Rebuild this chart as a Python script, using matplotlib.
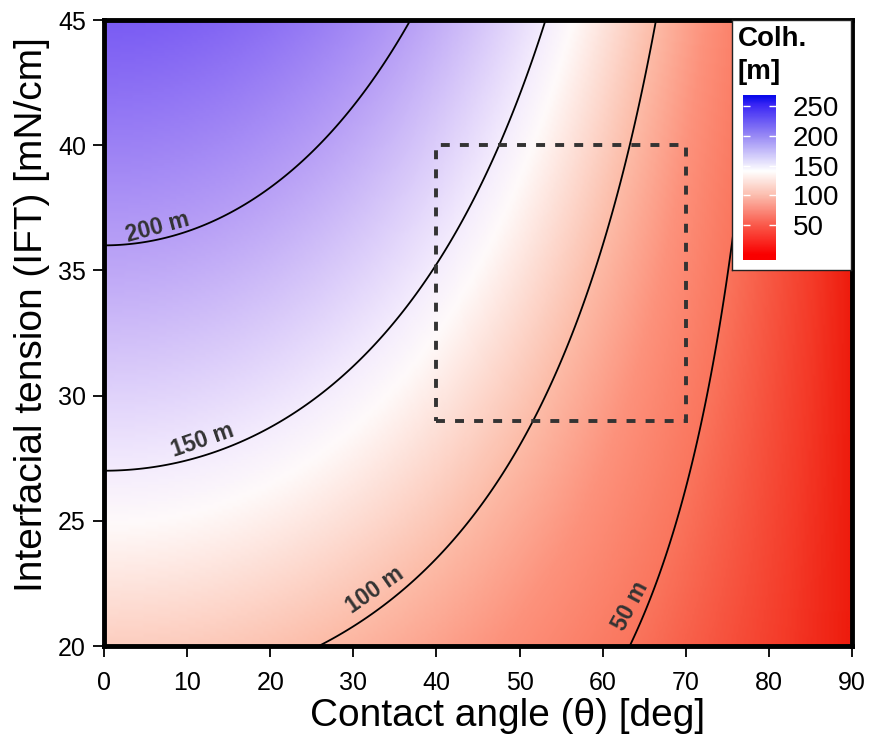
import numpy as np
import matplotlib
matplotlib.use("Agg")
import matplotlib.pyplot as plt
from matplotlib.colors import LinearSegmentedColormap
from matplotlib.patches import Rectangle

# ---- data ----
theta_deg = np.linspace(0, 90, 361)          # contact angle axis [deg]
ift = np.linspace(20, 45, 201)               # interfacial tension axis [mN/cm]
k_colh = 200.0 / 36.0                        # m per mN/cm (200 m contour meets θ=0 at IFT=36)
contour_levels = [50, 100, 150, 200]
contour_labels = ["50 m", "100 m", "150 m", "200 m"]
label_pos = [(63.3, 21.6), (32.6, 22.25), (11.9, 28.2), (6.5, 36.7)]
label_rot = [62, 35, 19, 15]
box_theta = [40, 70]
box_ift = [29, 40]
xticks = [0, 10, 20, 30, 40, 50, 60, 70, 80, 90]
yticks = [20, 25, 30, 35, 40, 45]
cbar_ticks = [50, 100, 150, 200, 250]

TH, IF = np.meshgrid(theta_deg, ift)
colh = k_colh * IF * np.cos(np.deg2rad(TH))

# colormaps
vmin, vmax = 0.0, 265.0
def anchors(pairs):
    return [((v - vmin) / (vmax - vmin), tuple(c / 255 for c in col)) for v, col in pairs]
map_cmap = LinearSegmentedColormap.from_list("map", anchors([
    (0, (238, 28, 14)), (15, (244, 58, 40)), (50, (250, 118, 94)),
    (75, (253, 146, 124)), (100, (252, 188, 168)), (138, (255, 250, 250)),
    (150, (244, 236, 253)), (200, (184, 160, 246)), (250, (122, 92, 243)),
    (265, (110, 78, 242))]))
bar_cmap = LinearSegmentedColormap.from_list("bar", anchors([
    (0, (250, 0, 0)), (50, (250, 90, 75)), (100, (252, 190, 175)),
    (140, (255, 255, 255)), (200, (150, 135, 245)), (250, (60, 40, 245)),
    (265, (10, 10, 235))]))

plt.rcParams['font.family'] = ['Liberation Sans', 'DejaVu Sans']
fig = plt.figure(figsize=(8.7, 7.4), dpi=100)
ax = fig.add_axes([104/870, 1-646/740, (852-104)/870, (646-20)/740])

ax.imshow(colh, origin="lower", extent=[0, 90, 20, 45], aspect="auto",
          cmap=map_cmap, vmin=vmin, vmax=vmax, interpolation="bilinear")
ax.contour(TH, IF, colh, levels=contour_levels, colors="black", linewidths=1.3)
for (x, y), lab, rot in zip(label_pos, contour_labels, label_rot):
    ax.text(x, y, lab, rotation=rot, rotation_mode="anchor", ha="center", va="center",
            fontsize=16.5, fontweight="bold", color="#333333")

ax.add_patch(Rectangle((box_theta[0], box_ift[0]), box_theta[1]-box_theta[0],
                       box_ift[1]-box_ift[0], fill=False, ec="#333333", lw=2.8,
                       ls=(0, (2.3, 2.6)), zorder=5))

ax.set_xlim(0, 90)
ax.set_ylim(20, 45)
ax.set_xticks(xticks)
ax.set_yticks(yticks)
for s in ax.spines.values():
    s.set_linewidth(3.5)
ax.tick_params(direction="out", length=8, width=1.3, labelsize=18)
ax.tick_params(axis="x", pad=10)
ax.tick_params(axis="y", pad=5)
ax.set_xlabel("Contact angle (θ) [deg]", fontsize=28)
ax.set_ylabel("Interfacial tension (IFT) [mN/cm]", fontsize=28)
ax.xaxis.set_label_coords(0.539, -0.083)
ax.yaxis.set_label_coords(-0.072, 0.529)

# legend box with colorbar
box = fig.add_axes([732/870, 1-270/740, (851-732)/870, (270-20)/740])
box.set_xticks([]); box.set_yticks([])
box.set_facecolor("white")
for s in box.spines.values():
    s.set_linewidth(1.0)
    s.set_edgecolor("#222222")
box.text(0.05, 0.975, "Colh.", transform=box.transAxes, fontsize=20,
         fontweight="bold", va="top", ha="left")
box.text(0.05, 0.845, "[m]", transform=box.transAxes, fontsize=20,
         fontweight="bold", va="top", ha="left")

cax = fig.add_axes([743/870, 1-260/740, (776-743)/870, (260-95)/740])
grad = np.linspace(-8, 268, 300).reshape(-1, 1)
cax.imshow(grad, origin="lower", extent=[0, 1, -8, 268], aspect="auto",
           cmap=bar_cmap, vmin=vmin, vmax=vmax)
cax.set_xlim(0, 1); cax.set_ylim(-8, 268)
cax.set_xticks([])
cax.set_yticks(cbar_ticks)
cax.yaxis.tick_right()
cax.tick_params(axis="y", direction="in", length=5, width=1, color="white",
                labelsize=20, pad=12, right=True, left=True)
for s in cax.spines.values():
    s.set_visible(False)

fig.savefig("out.png", dpi=100)
